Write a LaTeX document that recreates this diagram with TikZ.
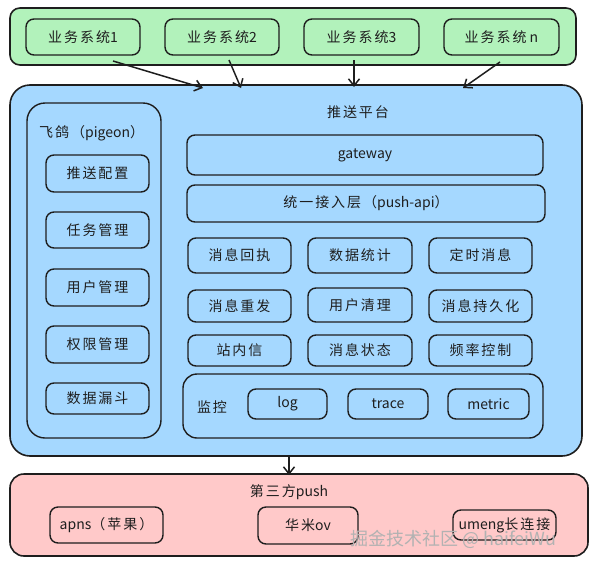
\documentclass[tikz,border=0pt]{standalone}
\usepackage{fontspec}
\setmainfont[LetterSpace=14]{Noto Sans CJK SC}
\newfontfamily\latf{Noto Sans CJK SC}
\newfontfamily\wmfont{Noto Sans CJK SC}
\newcommand\ltn[1]{{\latf #1}}
\usetikzlibrary{arrows.meta}
\definecolor{ink}{HTML}{1E1E1E}
\definecolor{gfill}{HTML}{B2F2BB}
\definecolor{bfill}{HTML}{A5D8FF}
\definecolor{pfill}{HTML}{FFC9C9}
\tikzset{
  outer/.style={draw=ink, line width=1.6pt, rounded corners=#1, inner sep=0pt},
  box/.style={draw=ink, line width=1.4pt, rounded corners=8pt, inner sep=0pt,
    font=\fontsize{14}{16}\selectfont, text=ink},
  lbl/.style={font=\fontsize{14}{16}\selectfont, text=ink, inner sep=0pt},
  arr/.style={draw=ink, line width=1.5pt, -{Straight Barb[length=7pt,width=11pt]}},
}
\begin{document}
\begin{tikzpicture}[x=1pt,y=-1pt]
\useasboundingbox (0,0) rectangle (596,565);
% top green
\node[outer=10pt, fill=gfill, minimum width=566pt, minimum height=57pt] (green) at (293,36.5) {};
\node[box, minimum width=114pt, minimum height=36pt] (s1) at (83,37) {业务系统\ltn{1}};
\node[box, minimum width=114pt, minimum height=36pt] (s2) at (222,37) {业务系统\ltn{2}};
\node[box, minimum width=115pt, minimum height=36pt] (s3) at (361.5,37) {业务系统\ltn{3}};
\node[box, minimum width=115pt, minimum height=36pt] (sn) at (501.5,37) {业务系统\ltn{ n}};
% blue
\node[outer=20pt, fill=bfill, minimum width=572pt, minimum height=371pt] (blue) at (296,270.5) {};
\node[box, rounded corners=18pt, minimum width=134pt, minimum height=335pt] (pigeon) at (94,270.5) {};
\node[lbl, anchor=west] (pigeonlbl) at (39,133) {飞鸽（\ltn{pigeon}）};
\node[box, minimum width=103pt, minimum height=37pt] (p1) at (97.5,173.5) {推送配置};
\node[box, minimum width=103pt, minimum height=36pt] (p2) at (97.5,230) {任务管理};
\node[box, minimum width=103pt, minimum height=37pt] (p3) at (97.5,287.5) {用户管理};
\node[box, minimum width=103pt, minimum height=37pt] (p4) at (97.5,344.5) {权限管理};
\node[box, minimum width=103pt, minimum height=31pt] (p5) at (97.5,398.5) {数据漏斗};
\node[lbl] (ptitle) at (358,112) {推送平台};
\node[box, minimum width=356pt, minimum height=40pt] (gw) at (365,155) {\ltn{gateway}};
\node[box, minimum width=358pt, minimum height=37pt] (api) at (366,203.5) {统一接入层（\ltn{push-api}）};
\node[box, minimum width=103pt, minimum height=35pt] (r11) at (239.5,255.5) {消息回执};
\node[box, minimum width=104pt, minimum height=35pt] (r12) at (360,255.5) {数据统计};
\node[box, minimum width=103pt, minimum height=35pt] (r13) at (480.5,255.5) {定时消息};
\node[box, minimum width=103pt, minimum height=32pt] (r21) at (239.5,306) {消息重发};
\node[box, minimum width=104pt, minimum height=34pt] (r22) at (360,305) {用户清理};
\node[box, minimum width=103pt, minimum height=32pt] (r23) at (480.5,306) {消息持久化};
\node[box, minimum width=103pt, minimum height=31pt] (r31) at (239.5,350.5) {站内信};
\node[box, minimum width=104pt, minimum height=31pt] (r32) at (360,350.5) {消息状态};
\node[box, minimum width=103pt, minimum height=31pt] (r33) at (480.5,350.5) {频率控制};
\node[box, rounded corners=14pt, minimum width=360pt, minimum height=64pt] (mon) at (363,406) {};
\node[lbl] (monlbl) at (212,407) {监控};
\node[box, minimum width=79pt, minimum height=30pt] (log) at (287.5,404) {\ltn{log}};
\node[box, minimum width=80pt, minimum height=30pt] (trace) at (388,404) {\ltn{trace}};
\node[box, minimum width=81pt, minimum height=30pt] (metric) at (488.5,404) {\ltn{metric}};
% pink
\node[outer=14pt, fill=pfill, minimum width=578pt, minimum height=82pt] (pink) at (299,515) {};
\node[lbl] (pktitle) at (289,492) {第三方\ltn{push}};
\node[box, minimum width=113pt, minimum height=36pt] (apns) at (106.5,525) {\ltn{apns}（苹果）};
\node[box, minimum width=100pt, minimum height=37pt] (hm) at (308,525.5) {华米\ltn{ov}};
\node[box, minimum width=103pt, minimum height=30pt] (um) at (504.5,525) {\ltn{umeng}长连接};
% arrows
\coordinate (a1s) at (113,61); \coordinate (a1e) at (203,88);
\coordinate (a2s) at (229,60); \coordinate (a2e) at (241,88);
\coordinate (a3s) at (354,60); \coordinate (a3e) at (354,87);
\coordinate (a4s) at (500,62); \coordinate (a4e) at (463,88);
\coordinate (a5s) at (289,457); \coordinate (a5e) at (289,475);
\draw[arr] (a1s) -- (a1e);
\draw[arr] (a2s) -- (a2e);
\draw[arr] (a3s) -- (a3e);
\draw[arr] (a4s) -- (a4e);
\draw[arr] (a5s) -- (a5e);
% watermark
\node[font=\wmfont\fontsize{18}{20}\selectfont, text=gray!60, anchor=west, inner sep=0pt] (wm) at (350,539) {掘金技术社区 @ haifeiWu};
\end{tikzpicture}
\end{document}
